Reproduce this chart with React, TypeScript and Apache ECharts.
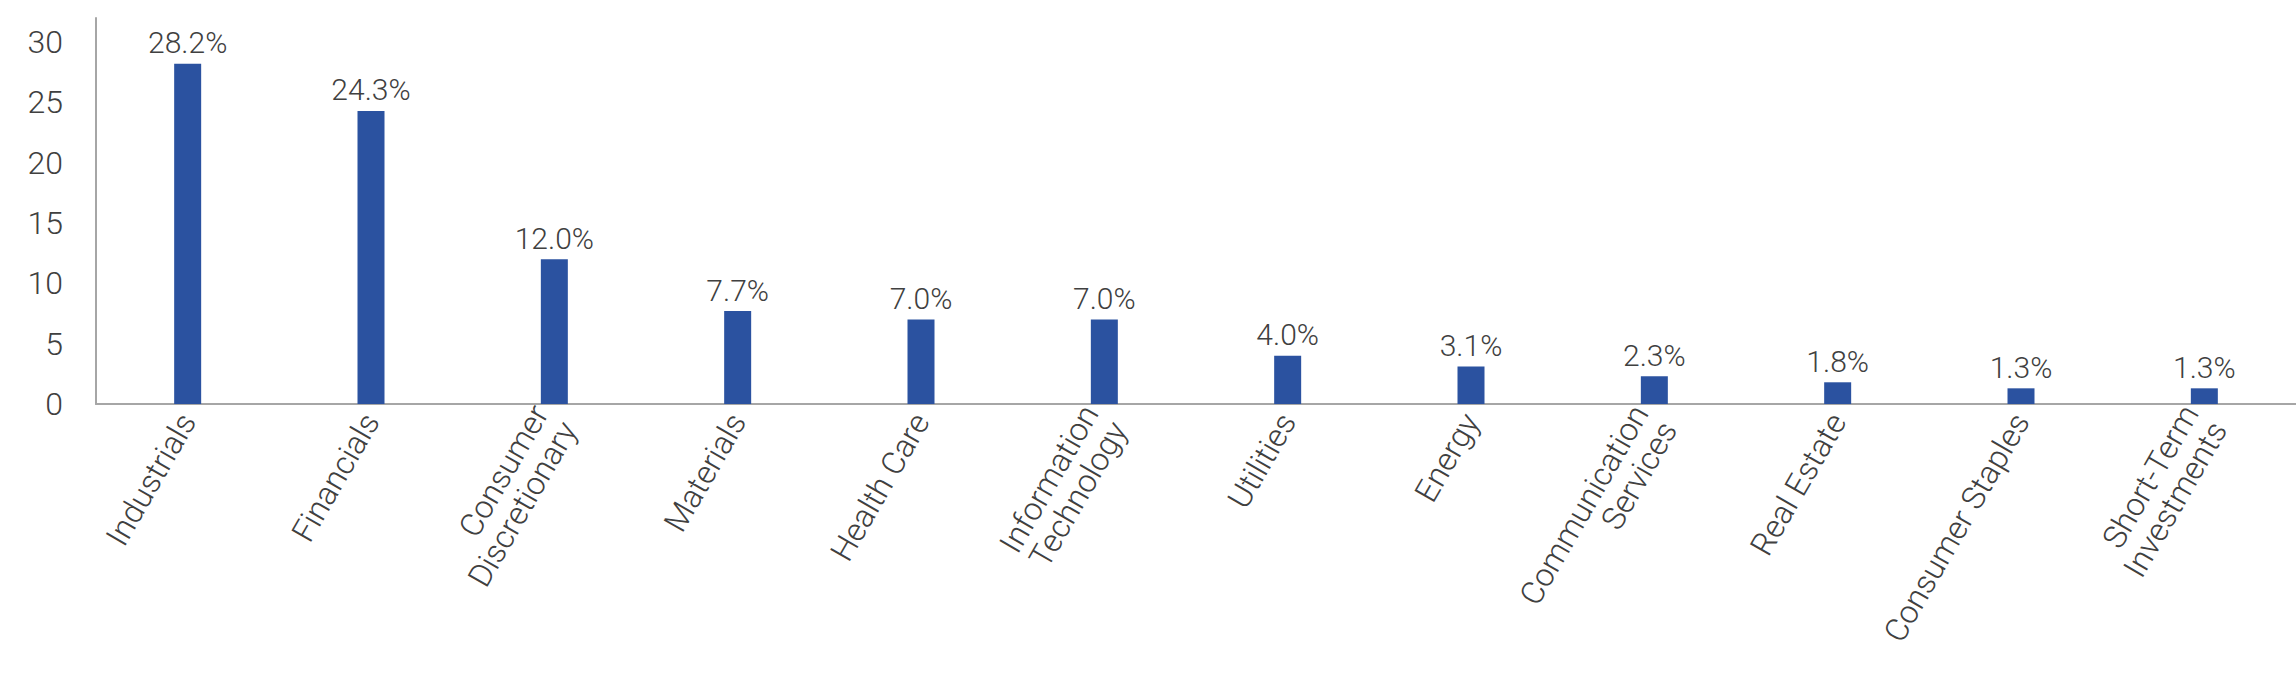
import React, { useEffect, useRef } from "react";
import * as echarts from "echarts";

const categories = [
  "Industrials",
  "Financials",
  "Consumer\nDiscretionary",
  "Materials",
  "Health Care",
  "Information\nTechnology",
  "Utilities",
  "Energy",
  "Communication\nServices",
  "Real Estate",
  "Consumer Staples",
  "Short-Term\nInvestments",
];
const values = [28.2, 24.3, 12.0, 7.7, 7.0, 7.0, 4.0, 3.1, 2.3, 1.8, 1.3, 1.3];
const yMin = 0;
const yMax = 32;
const yInterval = 5;

export default function App() {
  const ref = useRef<HTMLDivElement>(null);
  useEffect(() => {
    if (!ref.current) return;
    const chart = echarts.init(ref.current, undefined, { renderer: "svg" });
    const textColor = "#404040";
    const font = "Roboto";
    chart.setOption({
      animation: false,
      backgroundColor: "#ffffff",
      grid: { left: 96, right: 0, top: 18, bottom: 288, containLabel: false },
      xAxis: {
        type: "category",
        data: categories,
        axisLine: { show: true, lineStyle: { color: "#A6A6A6", width: 2 } },
        axisTick: { show: false },
        axisLabel: {
          rotate: 60,
          interval: 0,
          margin: 12,
          color: textColor,
          fontFamily: font,
          fontWeight: 300,
          fontSize: 32,
          lineHeight: 33,
        },
      },
      yAxis: {
        type: "value",
        min: yMin,
        max: yMax,
        interval: yInterval,
        splitLine: { show: false },
        axisLine: { show: true, lineStyle: { color: "#A6A6A6", width: 2 } },
        axisTick: { show: false },
        axisLabel: {
          showMaxLabel: false,
          margin: 33,
          color: textColor,
          fontFamily: font,
          fontWeight: 300,
          fontSize: 32,
          formatter: (v: number) => (v % yInterval === 0 ? String(v) : ""),
        },
      },
      series: [
        {
          type: "bar",
          data: values,
          barWidth: 27,
          itemStyle: { color: "#2B52A0" },
          label: {
            show: true,
            position: "top",
            distance: 6,
            color: textColor,
            fontFamily: font,
            fontWeight: 300,
            fontSize: 30,
            formatter: (p: any) => Number(p.value).toFixed(1) + "%",
          },
        },
      ],
    });
    return () => chart.dispose();
  }, []);
  return (
    <div
      ref={ref}
      style={{ position: "fixed", left: 0, top: 0, width: 2296, height: 692 }}
    />
  );
}
